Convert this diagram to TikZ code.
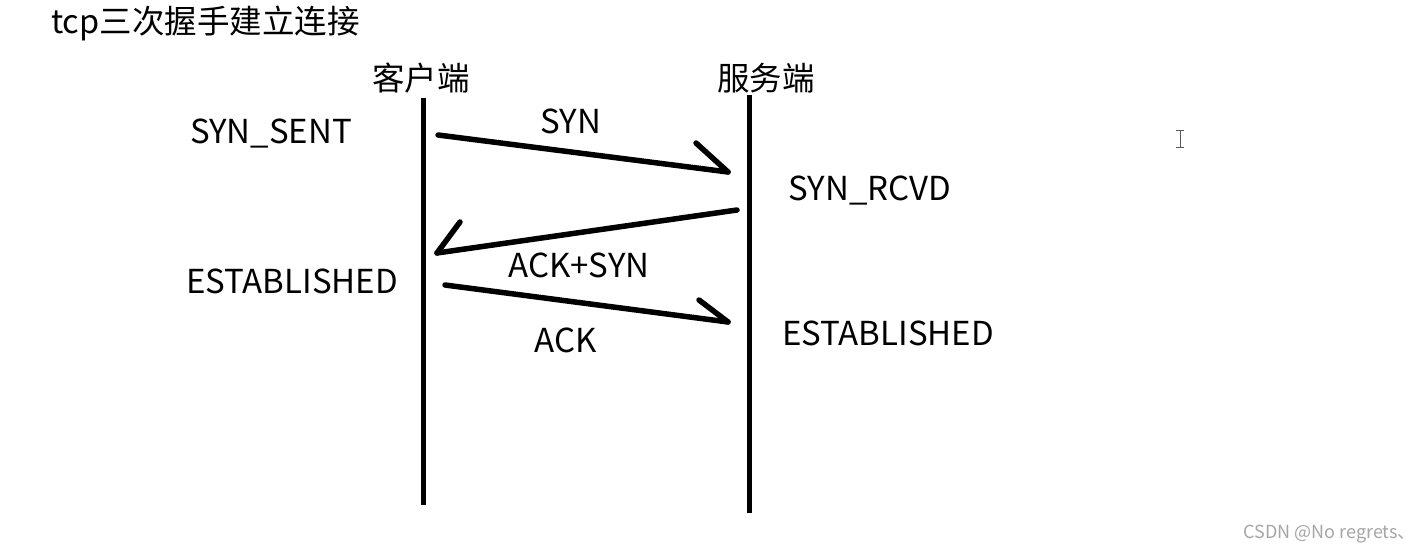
\documentclass[tikz,border=0pt]{standalone}
\usepackage{fontspec}
\setmainfont{Noto Sans CJK SC}
\begin{document}
\begin{tikzpicture}[x=1pt,y=-1pt,
  life/.style={line width=5pt},
  msg/.style={line width=5.5pt,line cap=round},
  barb/.style={line width=5.5pt,line cap=round},
  lbl/.style={inner sep=0pt,font=\fontsize{33}{36}\selectfont},
  ttl/.style={inner sep=0pt,font=\fontsize{32.5}{36}\selectfont}]
\useasboundingbox[fill=white] (0,0) rectangle (1426,553);
% title
\node[ttl,anchor=west] (title) at (51,23) {tcp三次握手建立连接};
% headers
\node[ttl] (client) at (421,78) {客户端};
\node[ttl] (server) at (766,78) {服务端};
% lifelines
\coordinate (c1) at (423,98);
\coordinate (c2) at (423,505);
\coordinate (s1) at (749,95);
\coordinate (s2) at (749,513);
\draw[life] (c1) -- (c2);
\draw[life] (s1) -- (s2);
% SYN
\coordinate (a1) at (438,135);
\coordinate (a2) at (728,172);
\coordinate (a3) at (696,143);
\draw[msg] (a1) -- (a2);
\draw[barb] (a3) -- (a2);
% ACK+SYN
\coordinate (b1) at (737,210);
\coordinate (b2) at (437,253);
\coordinate (b3) at (460,222);
\draw[msg] (b1) -- (b2);
\draw[barb] (b3) -- (b2);
% ACK
\coordinate (d1) at (445,285);
\coordinate (d2) at (728,322);
\coordinate (d3) at (699,300);
\draw[msg] (d1) -- (d2);
\draw[barb] (d3) -- (d2);
% labels
\node[lbl] (synsent) at (271,134) {SYN\_SENT};
\node[lbl] (syn) at (571,121) {SYN};
\node[lbl] (synrcvd) at (870,191) {SYN\_RCVD};
\node[lbl] (acksyn) at (579,265) {ACK+SYN};
\node[lbl] (estc) at (292,281) {ESTABLISHED};
\node[lbl] (ack) at (566,340) {ACK};
\node[lbl] (ests) at (888,333) {ESTABLISHED};
% cursor
\coordinate (i1) at (1180,131);
\coordinate (i2) at (1180,148);
\draw[line width=1pt,gray!70!black] (i1) -- (i2);
\draw[line width=1pt,gray!70!black] (1176,131) -- (1184,131) (1176,148) -- (1184,148);
% watermark
\node[inner sep=0pt,anchor=east,text=gray!70,font=\fontsize{18}{20}\selectfont] (wm) at (1416,534) {CSDN @No regrets、};
\end{tikzpicture}
\end{document}
